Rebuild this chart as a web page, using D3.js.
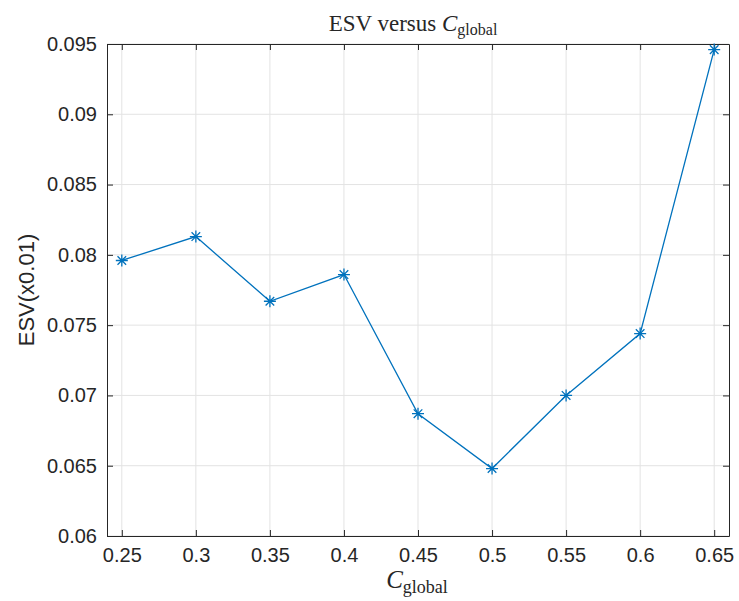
<!DOCTYPE html>
<html lang="en">
<head>
<meta charset="UTF-8">
<title>ESV versus C_global</title>
<style>
  body { margin: 0; background: #fff; }
  svg { display: block; }
  .tick text { font-family: "Liberation Sans", Arial, sans-serif; font-size: 20px; fill: #262626; }
  .latex { font-family: "Liberation Serif", "Times New Roman", serif; fill: #262626; }
</style>
</head>
<body>
<svg width="739" height="601"></svg>
<script src="https://d3js.org/d3.v7.min.js"></script>
<script>
  var cGlobal = [0.25, 0.3, 0.35, 0.4, 0.45, 0.5, 0.55, 0.6, 0.65];
  var esv = [0.0796, 0.0813, 0.0767, 0.0786, 0.0687, 0.0648, 0.0700, 0.0744, 0.0946];
  var xTicks = [0.25, 0.3, 0.35, 0.4, 0.45, 0.5, 0.55, 0.6, 0.65];
  var yTicks = [0.06, 0.065, 0.07, 0.075, 0.08, 0.085, 0.09, 0.095];

  var svg = d3.select("svg");
  var plotL = 107, plotR = 729, plotT = 44, plotB = 536;
  var axisColor = "#262626", lineColor = "#0072BD";

  var x = d3.scaleLinear().domain([0.24, 0.66]).range([plotL, plotR]);
  var y = d3.scaleLinear().domain([0.06, 0.095]).range([plotB, plotT]);

  // grid
  svg.append("g").selectAll("line").data(xTicks).enter().append("line")
    .attr("x1", d => x(d)).attr("x2", d => x(d))
    .attr("y1", plotT).attr("y2", plotB)
    .style("stroke", "#e3e3e3").style("stroke-width", 1);
  svg.append("g").selectAll("line").data(yTicks).enter().append("line")
    .attr("y1", d => y(d)).attr("y2", d => y(d))
    .attr("x1", plotL).attr("x2", plotR)
    .style("stroke", "#e3e3e3").style("stroke-width", 1);

  // axes
  var fmt = d => String(+d.toFixed(3));
  var gx = svg.append("g").attr("transform", "translate(0," + plotB + ")")
    .call(d3.axisBottom(x).tickValues(xTicks).tickFormat(fmt).tickSizeInner(-6).tickSizeOuter(0).tickPadding(12));
  var gxTop = svg.append("g").attr("transform", "translate(0," + plotT + ")")
    .call(d3.axisTop(x).tickValues(xTicks).tickFormat("").tickSizeInner(-6).tickSizeOuter(0));
  var gy = svg.append("g").attr("transform", "translate(" + plotL + ",0)")
    .call(d3.axisLeft(y).tickValues(yTicks).tickFormat(fmt).tickSizeInner(-6).tickSizeOuter(0).tickPadding(10));
  var gyRight = svg.append("g").attr("transform", "translate(" + plotR + ",0)")
    .call(d3.axisRight(y).tickValues(yTicks).tickFormat("").tickSizeInner(-6).tickSizeOuter(0));
  [gx, gxTop, gy, gyRight].forEach(function (g) {
    g.selectAll("path, line").style("stroke", axisColor).style("stroke-width", 1);
  });

  // line
  var pts = cGlobal.map((c, i) => [c, esv[i]]);
  svg.append("path").datum(pts)
    .attr("d", d3.line().x(d => x(d[0])).y(d => y(d[1])))
    .style("fill", "none").style("stroke", lineColor).style("stroke-width", 1.3);

  // asterisk markers
  var r = 6, rd = 4.3;
  svg.append("g").selectAll("path").data(pts).enter().append("path")
    .attr("transform", d => "translate(" + x(d[0]) + "," + y(d[1]) + ")")
    .attr("d", "M" + (-r) + ",0H" + r + "M0," + (-r) + "V" + r +
      "M" + (-rd) + "," + (-rd) + "L" + rd + "," + rd +
      "M" + (-rd) + "," + rd + "L" + rd + "," + (-rd))
    .style("fill", "none").style("stroke", lineColor).style("stroke-width", 1.3);

  // title
  var title = svg.append("text").attr("class", "latex")
    .attr("x", 413).attr("y", 31).attr("text-anchor", "middle").style("font-size", "23px");
  title.append("tspan").text("ESV versus ");
  title.append("tspan").style("font-style", "italic").text("C");
  title.append("tspan").attr("dy", 4).style("font-size", "16px").text("global");

  // x label
  var xl = svg.append("text").attr("class", "latex")
    .attr("x", 417).attr("y", 588).attr("text-anchor", "middle").style("font-size", "25px");
  xl.append("tspan").style("font-style", "italic").text("C");
  xl.append("tspan").attr("dy", 5).style("font-size", "18px").text("global");

  // y label
  svg.append("text")
    .attr("transform", "translate(34," + ((plotT + plotB) / 2) + ") rotate(-90)")
    .attr("text-anchor", "middle")
    .style("font-family", "Liberation Sans, Arial, sans-serif")
    .style("font-size", "22px").style("fill", axisColor)
    .text("ESV(x0.01)");
</script>
</body>
</html>
